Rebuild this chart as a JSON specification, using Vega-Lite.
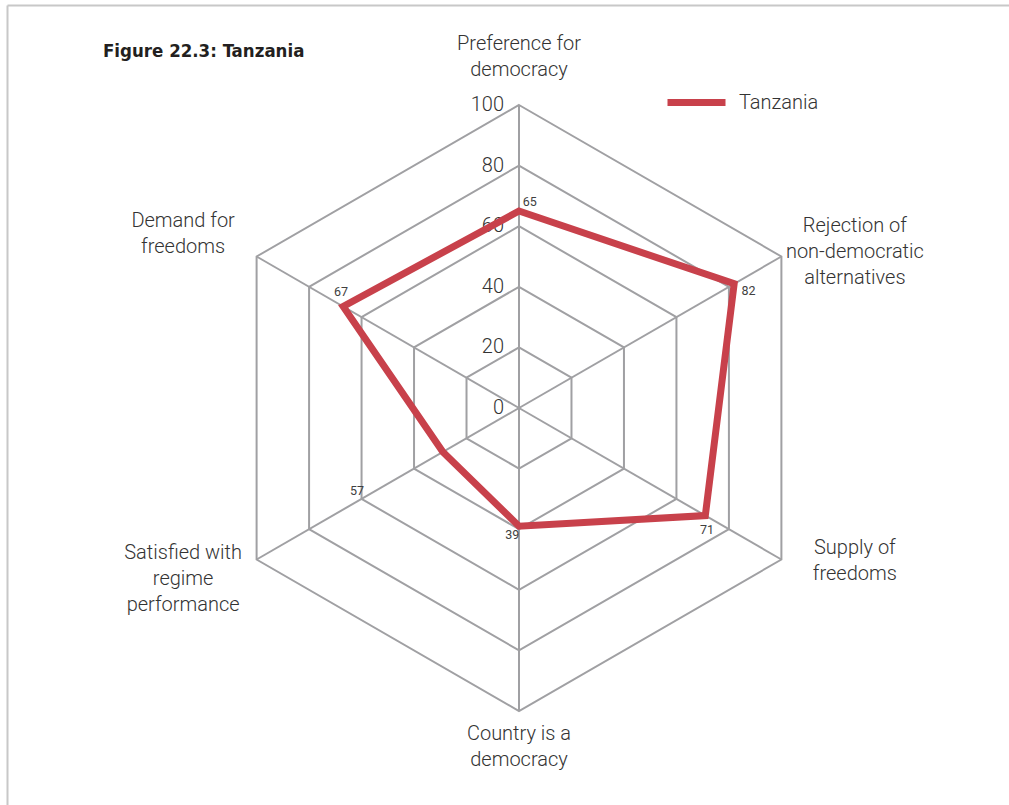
{
  "$schema": "https://vega.github.io/schema/vega-lite/v6.json",
  "width": 1002,
  "height": 800,
  "autosize": {"type": "none"},
  "padding": {"left": 7, "top": 5, "right": 0, "bottom": 0},
  "background": "white",
  "title": {
    "text": "Figure 22.3: Tanzania",
    "anchor": "start",
    "frame": "group",
    "orient": "top",
    "offset": -70,
    "dx": 96,
    "baseline": "alphabetic",
    "font": "DejaVu Sans Condensed, Liberation Sans",
    "fontSize": 18.5,
    "fontWeight": "bold",
    "color": "#231F20"
  },
  "config": {
    "view": {"stroke": null},
    "axis": {"labels": false, "ticks": false, "grid": false, "domain": true, "domainColor": "#C8C8C8", "domainWidth": 2, "title": null},
    "text": {"font": "Roboto"}
  },
  "datasets": {
    "axes": [
      {"category": "Preference for\ndemocracy", "index": 0, "value": 65, "label": 65, "country": "Tanzania"},
      {"category": "Rejection of\nnon-democratic\nalternatives", "index": 1, "value": 82, "label": 82, "country": "Tanzania"},
      {"category": "Supply of\nfreedoms", "index": 2, "value": 71, "label": 71, "country": "Tanzania"},
      {"category": "Country is a\ndemocracy", "index": 3, "value": 39, "label": 39, "country": "Tanzania"},
      {"category": "Satisfied with\nregime\nperformance", "index": 4, "value": 29, "label": 57, "country": "Tanzania"},
      {"category": "Demand for\nfreedoms", "index": 5, "value": 67, "label": 67, "country": "Tanzania"}
    ],
    "rings": [
      {"level": 20, "index": [0, 1, 2, 3, 4, 5]},
      {"level": 40, "index": [0, 1, 2, 3, 4, 5]},
      {"level": 60, "index": [0, 1, 2, 3, 4, 5]},
      {"level": 80, "index": [0, 1, 2, 3, 4, 5]},
      {"level": 100, "index": [0, 1, 2, 3, 4, 5]}
    ],
    "ticks": [
      {"level": 0}, {"level": 20}, {"level": 40}, {"level": 60}, {"level": 80}, {"level": 100}
    ]
  },
  "layer": [
    {
      "data": {"name": "rings"},
      "transform": [
        {"flatten": ["index"]},
        {"calculate": "datum.level * sin(datum.index * PI / 3)", "as": "gx"},
        {"calculate": "datum.level * cos(datum.index * PI / 3)", "as": "gy"}
      ],
      "mark": {"type": "line", "interpolate": "linear-closed", "stroke": "#A0A0A3", "strokeWidth": 2},
      "encoding": {
        "x": {"field": "gx", "type": "quantitative", "scale": {"domain": [-168.98, 161.72], "nice": false, "zero": false}, "axis": {"orient": "top", "title": null}},
        "y": {"field": "gy", "type": "quantitative", "scale": {"domain": [-131.02, 133.0], "nice": false, "zero": false}, "axis": {"orient": "left", "title": null}},
        "detail": {"field": "level", "type": "nominal"},
        "order": {"field": "index", "type": "quantitative"}
      }
    },
    {
      "data": {"name": "axes"},
      "transform": [
        {"calculate": "0", "as": "ox"},
        {"calculate": "100 * sin(datum.index * PI / 3)", "as": "sx"},
        {"calculate": "100 * cos(datum.index * PI / 3)", "as": "sy"}
      ],
      "mark": {"type": "rule", "stroke": "#A0A0A3", "strokeWidth": 2},
      "encoding": {
        "x": {"field": "ox", "type": "quantitative"},
        "y": {"field": "ox", "type": "quantitative"},
        "x2": {"field": "sx"},
        "y2": {"field": "sy"}
      }
    },
    {
      "data": {"name": "ticks"},
      "transform": [{"calculate": "0", "as": "ox"}],
      "mark": {"type": "text", "align": "right", "baseline": "middle", "dx": -15, "fontSize": 20, "fontWeight": 300, "color": "#333333"},
      "encoding": {
        "x": {"field": "ox", "type": "quantitative"},
        "y": {"field": "level", "type": "quantitative"},
        "text": {"field": "level", "type": "quantitative"}
      }
    },
    {
      "data": {"name": "axes"},
      "transform": [
        {"calculate": "datum.value * sin(datum.index * PI / 3)", "as": "px"},
        {"calculate": "datum.value * cos(datum.index * PI / 3)", "as": "py"}
      ],
      "mark": {"type": "line", "interpolate": "linear-closed", "strokeWidth": 7, "strokeJoin": "miter"},
      "encoding": {
        "x": {"field": "px", "type": "quantitative"},
        "y": {"field": "py", "type": "quantitative"},
        "order": {"field": "index", "type": "quantitative"},
        "color": {
          "field": "country",
          "type": "nominal",
          "scale": {"range": ["#C8414B"]},
          "legend": {
            "title": null,
            "orient": "none",
            "legendX": 657,
            "legendY": 65,
            "padding": 0,
            "symbolType": "stroke",
            "symbolSize": 3364,
            "symbolStrokeWidth": 7,
            "labelFontSize": 20,
            "labelFont": "Roboto",
            "labelFontWeight": 300,
            "labelColor": "#333333",
            "labelOffset": 10
          }
        }
      }
    },
    {
      "data": {"name": "axes"},
      "transform": [
        {"calculate": "(datum.label + 3) * sin(datum.index * PI / 3 + PI / 60)", "as": "lx"},
        {"calculate": "(datum.label + 3) * cos(datum.index * PI / 3 + PI / 60)", "as": "ly"}
      ],
      "mark": {"type": "text", "align": "center", "baseline": "middle", "fontSize": 12.5, "color": "#404040"},
      "encoding": {
        "x": {"field": "lx", "type": "quantitative"},
        "y": {"field": "ly", "type": "quantitative"},
        "text": {"field": "label", "type": "quantitative"}
      }
    },
    {
      "data": {"name": "axes"},
      "transform": [
        {"calculate": "datum.index * PI / 3", "as": "theta"},
        {"calculate": "128 * sin(datum.theta)", "as": "cx"},
        {"calculate": "cos(datum.theta) * (90 + 24 * abs(cos(datum.theta)) + (sin(datum.theta) < -0.1 ? 12 : 0)) + 2 * cos(datum.theta) * cos(datum.theta) + (length(split(datum.category, '\\n')) - 1) * 13 / 3.03", "as": "cy"}
      ],
      "mark": {"type": "text", "align": "center", "baseline": "middle", "lineBreak": "\n", "lineHeight": 26, "fontSize": 20, "fontWeight": 300, "color": "#333333"},
      "encoding": {
        "x": {"field": "cx", "type": "quantitative"},
        "y": {"field": "cy", "type": "quantitative"},
        "text": {"field": "category", "type": "nominal"}
      }
    }
  ]
}
